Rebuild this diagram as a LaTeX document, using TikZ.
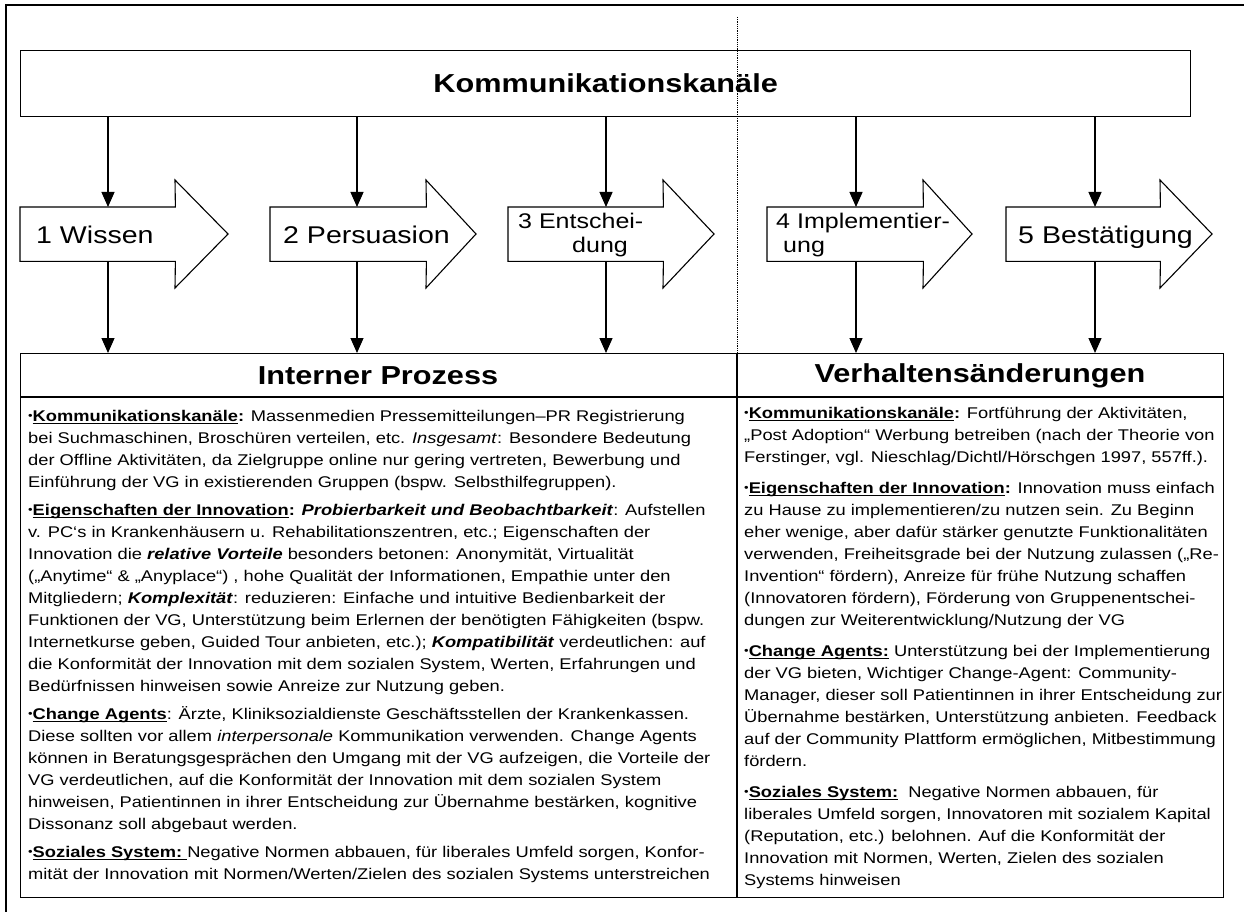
\documentclass[tikz,border=0pt]{standalone}
\usepackage{fontspec}
\setmainfont{Liberation Sans}[FakeStretch=1.18]
\usetikzlibrary{arrows.meta}

% type sizes (1pt of the picture = one unit of the grid)
\newcommand\titlefont{\fontsize{26}{30}\selectfont\bfseries}
\newcommand\headfont{\fontsize{26}{30}\selectfont\bfseries}
\newcommand\chevfont{\fontsize{24.2}{28}\selectfont}
\newcommand\chevsmall{\fontsize{21.2}{24}\selectfont}
\newcommand\bodyfont{\fontsize{15.5}{22}\selectfont}
% underlined bold label and bullet
\newsavebox\labbox
\newcommand\lab[1]{\textbf{\sbox\labbox{#1}\rlap{\rule[-3pt]{\wd\labbox}{1.3pt}}\usebox\labbox}}
\newcommand\bul{{\fontsize{11}{0}\selectfont\raisebox{1.5pt}{•}}}

\tikzset{
  box/.style={draw, line width=1.3pt, inner sep=0pt},
  arr/.style={line width=1.2pt, -{Triangle[width=13pt,length=15pt]}},
  chev/.style={draw, line width=1.1pt, line join=miter},
  chevtext/.style={anchor=base west, inner sep=0pt, font=\chevfont},
  chevtwo/.style={anchor=west, inner sep=0pt, align=left, font=\chevsmall},
  coltext/.style={anchor=north west, inner sep=0pt, align=left, font=\bodyfont},
}

% chevron: #1 name, #2 left edge, #3 start of head, #4 tip
\newcommand\chevron[4]{%
  \node[anchor=north west, minimum width={(#3-#2)*1pt}, minimum height=54pt, inner sep=0pt] (#1) at (#2,207) {};
  \draw[chev] (#1.north west) -- (#1.north east) -- (#3,180) -- (#4,234) -- (#3,288)
    -- (#1.south east) -- (#1.south west) -- cycle;
}

\begin{document}
\begin{tikzpicture}[x=1pt,y=-1pt]
\useasboundingbox (0,0) rectangle (1244,912);

% outer frame
\draw[line width=2.6pt] (6,915) -- (6,5) -- (1250,5);

% channel box on top
\node[box, anchor=north west, minimum width=1170pt, minimum height=66pt, font=\titlefont] (title) at (20,50) {Kommunikationskanäle};

% lower table
\node[box, anchor=north west, minimum width=1203pt, minimum height=544pt] (lower) at (20,353) {};
\coordinate (dtop) at (737,17);
\coordinate (hsep) at (20,397);
\draw[line width=1.3pt] (hsep) -- (hsep -| lower.east);
\draw[line width=1.3pt] (dtop |- lower.north) -- (dtop |- lower.south);
\draw[densely dotted, line width=0.8pt] (dtop) -- (dtop |- lower.north);

\node[font=\headfont] (h1) at (378,376) {Interner Prozess};
\node[font=\headfont] (h2) at (980,376) {Verhaltensänderungen};

% five stages
\chevron{s1}{20}{175}{228}
\chevron{s2}{270}{426}{476}
\chevron{s3}{508}{663}{714}
\chevron{s4}{767}{923}{972}
\chevron{s5}{1006}{1160}{1212}

\node[chevtext] (t1) at (36,243) {1 Wissen};
\node[chevtext] (t2) at (283,243) {2 Persuasion};
\node[chevtwo] (t3) at (518,235.5) {3 Entschei-\\\hspace*{54pt}dung};
\node[chevtwo] (t4) at (776,235.5) {4 Implementier-\\\hspace*{7pt}ung};
\node[chevtext] (t5) at (1018,243) {5 Bestätigung};

% connectors
\foreach \n/\x in {1/108, 2/357, 3/606, 4/856, 5/1095} {
  \coordinate (x\n) at (\x,0);
  \draw[arr] (title.south -| x\n) -- (s\n.north -| x\n);
  \draw[arr] (s\n.south -| x\n) -- (lower.north -| x\n);
}

% left column
\node[coltext] (left) at (28,409.7) {%
\bul\lab{Kommunikationskanäle}\textbf{:} Massenmedien Pressemitteilungen–PR Registrierung\\
bei Suchmaschinen, Broschüren verteilen, etc. \textit{Insgesamt}: Besondere Bedeutung\\
der Offline Aktivitäten, da Zielgruppe online nur gering vertreten, Bewerbung und\\
Einführung der VG in existierenden Gruppen (bspw. Selbsthilfegruppen).\\[6pt]
\bul\lab{Eigenschaften der Innovation}\textbf{: \textit{Probierbarkeit und Beobachtbarkeit}}: Aufstellen\\
v. PC‘s in Krankenhäusern u. Rehabilitationszentren, etc.; Eigenschaften der\\
Innovation die \textbf{\textit{relative Vorteile}} besonders betonen: Anonymität, Virtualität\\
(„Anytime“ \& „Anyplace“) , hohe Qualität der Informationen, Empathie unter den\\
Mitgliedern; \textbf{\textit{Komplexität}}: reduzieren: Einfache und intuitive Bedienbarkeit der\\
Funktionen der VG, Unterstützung beim Erlernen der benötigten Fähigkeiten (bspw.\\
Internetkurse geben, Guided Tour anbieten, etc.); \textbf{\textit{Kompatibilität}} verdeutlichen: auf\\
die Konformität der Innovation mit dem sozialen System, Werten, Erfahrungen und\\
Bedürfnissen hinweisen sowie Anreize zur Nutzung geben.\\[6pt]
\bul\lab{Change Agents}: Ärzte, Kliniksozialdienste Geschäftsstellen der Krankenkassen.\\
Diese sollten vor allem \textit{interpersonale} Kommunikation verwenden. Change Agents\\
können in Beratungsgesprächen den Umgang mit der VG aufzeigen, die Vorteile der\\
VG verdeutlichen, auf die Konformität der Innovation mit dem sozialen System\\
hinweisen, Patientinnen in ihrer Entscheidung zur Übernahme bestärken, kognitive\\
Dissonanz soll abgebaut werden.\\[6pt]
\bul\lab{Soziales System:\ }Negative Normen abbauen, für liberales Umfeld sorgen, Konfor-\\
mität der Innovation mit Normen/Werten/Zielen des sozialen Systems unterstreichen};

% right column
\node[coltext] (right) at (744,406.7) {%
\bul\lab{Kommunikationskanäle}\textbf{:} Fortführung der Aktivitäten,\\
„Post Adoption“ Werbung betreiben (nach der Theorie von\\
Ferstinger, vgl. Nieschlag/Dichtl/Hörschgen 1997, 557ff.).\\[9pt]
\bul\lab{Eigenschaften der Innovation}\textbf{:} Innovation muss einfach\\
zu Hause zu implementieren/zu nutzen sein. Zu Beginn\\
eher wenige, aber dafür stärker genutzte Funktionalitäten\\
verwenden, Freiheitsgrade bei der Nutzung zulassen („Re-\\
Invention“ fördern), Anreize für frühe Nutzung schaffen\\
(Innovatoren fördern), Förderung von Gruppenentschei-\\
dungen zur Weiterentwicklung/Nutzung der VG\\[9pt]
\bul\lab{Change Agents:} Unterstützung bei der Implementierung\\
der VG bieten, Wichtiger Change-Agent: Community-\\
Manager, dieser soll Patientinnen in ihrer Entscheidung zur\\
Übernahme bestärken, Unterstützung anbieten. Feedback\\
auf der Community Plattform ermöglichen, Mitbestimmung\\
fördern.\\[9pt]
\bul\lab{Soziales System:}\ \ Negative Normen abbauen, für\\
liberales Umfeld sorgen, Innovatoren mit sozialem Kapital\\
(Reputation, etc.) belohnen. Auf die Konformität der\\
Innovation mit Normen, Werten, Zielen des sozialen\\
Systems hinweisen};
\end{tikzpicture}
\end{document}
